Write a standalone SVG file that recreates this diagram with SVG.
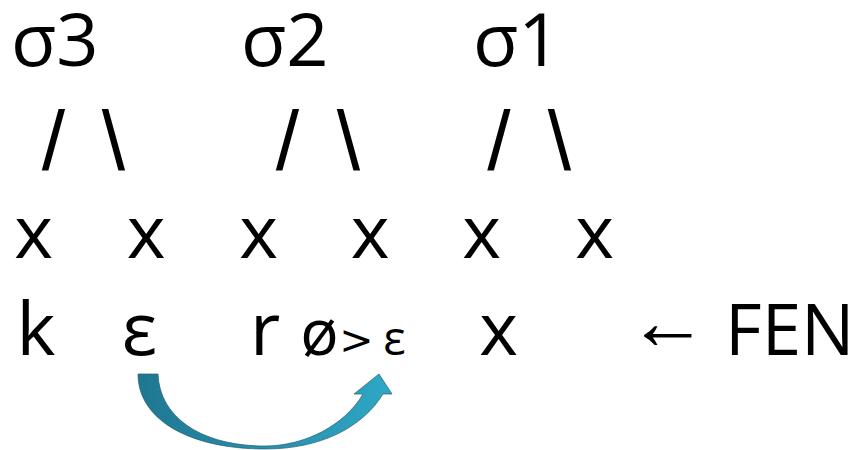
<svg xmlns="http://www.w3.org/2000/svg" width="855" height="450" viewBox="0 0 855 450">
<defs>
<style>
text{font-family:"Open Sans","DejaVu Sans",sans-serif;fill:#000;}
.big{font-size:74px;}
.sl{font-family:"Liberation Sans",sans-serif;font-size:84px;text-anchor:middle;}
.m{text-anchor:middle;}
.small{font-size:47px;text-anchor:middle;}
</style>
<linearGradient id="g" x1="0" y1="0" x2="1" y2="0">
<stop offset="0" stop-color="#1f7791"/>
<stop offset="1" stop-color="#2fa7c6"/>
</linearGradient>
</defs>
<rect width="855" height="450" fill="#fff"/>
<g id="sigma3">
<text class="big" x="11" y="66">σ3</text>
<text class="sl" x="53.5" y="170">/</text>
<text class="sl" x="113.5" y="170">\</text>
</g>
<g id="sigma2">
<text class="big" x="241" y="66">σ2</text>
<text class="sl" x="287.5" y="170">/</text>
<text class="sl" x="348.5" y="170">\</text>
</g>
<g id="sigma1">
<text class="big" x="473" y="66">σ1</text>
<text class="sl" x="499" y="170">/</text>
<text class="sl" x="559.5" y="170">\</text>
</g>
<g id="xrow">
<text class="big m" x="33.5" y="258">x</text>
<text class="big m" x="146" y="258">x</text>
<text class="big m" x="258.5" y="258">x</text>
<text class="big m" x="370" y="258">x</text>
<text class="big m" x="481.5" y="258">x</text>
<text class="big m" x="594.5" y="258">x</text>
</g>
<g id="fenrow">
<text class="big m" x="36" y="355">k</text>
<text class="big m" x="139.5" y="355">ε</text>
<text class="big m" x="265" y="355">r</text>
<text class="m" style="font-size:64px" x="319.5" y="355">ø</text>
<text class="m" style="font-family:'DejaVu Sans',sans-serif;font-size:41px" x="356.5" y="354">&gt;</text>
<text class="small" x="394.5" y="355">ε</text>
<text class="big m" x="498.5" y="355">x</text>
</g>
<g id="fen">
<text style="font-family:'Liberation Sans',sans-serif;font-size:80px;text-anchor:middle" x="668" y="349">←</text>
<text style="font-size:71px" x="725" y="355">FEN</text>
</g>
<g id="connectors">
<path d="M138,374 C138,420 190,449 265,449 C320,449 362,428 383,394 L392,394 L379,374 L354,394 L363,394 C345,425 305,446 265,446 C205,446 160,420 158,374 Z" fill="url(#g)" stroke="#265f70" stroke-width="0.7"/>
</g>
</svg>
